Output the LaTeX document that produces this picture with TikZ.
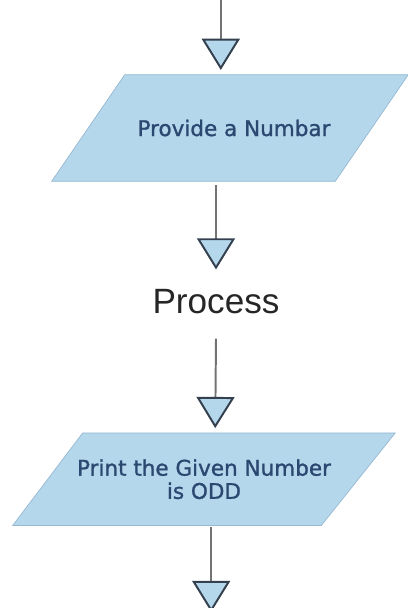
\documentclass[tikz,border=0pt]{standalone}
\usepackage{fontspec}
\setmainfont{Liberation Sans}
\newfontfamily\boxfont[FakeBold=1.2]{DejaVu Sans}
\usetikzlibrary{positioning,calc}
\usetikzlibrary{arrows.meta,backgrounds}
\definecolor{FlowBlue}{RGB}{180,215,236}
\definecolor{FlowEdge}{RGB}{150,184,210}
\definecolor{FlowText}{RGB}{42,72,112}
\definecolor{TipEdge}{RGB}{52,64,78}
\tikzset{io/.style={rectangle,text=FlowText,font=\boxfont\fontsize{15.3}{17}\selectfont,align=center,inner sep=0pt}, iobox/.style={fill=FlowBlue,draw=FlowEdge,line width=0.5pt}, flow/.style={draw=black!55,line width=1.4pt,-{Triangle[width=0.95cm,length=0.78cm,fill=FlowBlue,color=TipEdge,line width=1.4pt]}}, proc/.style={font=\fontsize{25}{28}\selectfont,text=black!85,inner sep=0pt}}
\begin{document}
\begin{tikzpicture}
\useasboundingbox (0,0) rectangle (10.2,-15.2);
\coordinate (start) at (5.52,0.2);
\node[io,minimum width=8.9cm,minimum height=2.65cm] (getnum) at (5.75,-3.2) {\hspace*{0.2cm}Provide a Numbar};
\node[proc] (process) at (5.4,-7.55) {Process};
\node[io,minimum width=9.55cm,minimum height=2.3cm] (printodd) at (5.1,-11.98) {Print the Given Number\\[-0.5pt]is ODD};
\coordinate (stop) at (5.28,-15.3);
\begin{scope}[on background layer]
\draw[iobox] ([xshift=1.825cm]getnum.north west) -- (getnum.north east) -- ([xshift=-1.825cm]getnum.south east) -- (getnum.south west) -- cycle;
\draw[iobox] ([xshift=1.75cm]printodd.north west) -- (printodd.north east) -- ([xshift=-1.85cm]printodd.south east) -- (printodd.south west) -- cycle;
\end{scope}
\draw[flow,shorten >=0.12cm] (start) -- (start |- getnum.north);
\draw[flow] ($(getnum.south -| process)+(0,-0.1)$) -- ($(process.north)+(0,0.5)$);
\draw[flow] ($(process.south)+(0,-0.6)$) -- ($(printodd.north -| process.south)+(-0.02,0.12)$);
\draw[flow] ($(printodd.south -| stop)+(0,-0.05)$) -- (stop);
\end{tikzpicture}
\end{document}
